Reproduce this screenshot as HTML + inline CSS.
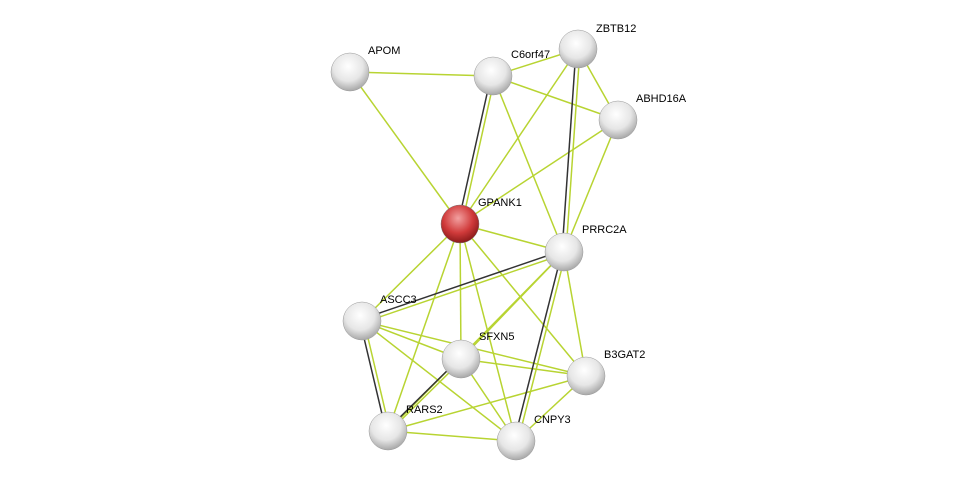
<!DOCTYPE html>
<html><head><meta charset="utf-8"><style>
html,body{margin:0;padding:0;background:#fff;width:976px;height:486px;overflow:hidden}
text{font-family:"Liberation Sans",sans-serif;font-size:11px;fill:#000}
</style></head><body>
<svg width="976" height="486" viewBox="0 0 976 486" xmlns="http://www.w3.org/2000/svg">
<defs>
<radialGradient id="g" cx="45%" cy="35%" r="65%">
<stop offset="0" stop-color="#ffffff"/><stop offset="0.6" stop-color="#e6e6e6"/><stop offset="1" stop-color="#a8a8a8"/>
</radialGradient>
<radialGradient id="r" cx="45%" cy="35%" r="65%">
<stop offset="0" stop-color="#f2a0a0"/><stop offset="0.6" stop-color="#d03a3a"/><stop offset="1" stop-color="#8a1a1a"/>
</radialGradient>
</defs>
<g stroke="#b8d432" stroke-width="1.5" fill="none">
<line x1="350" y1="72" x2="493" y2="76"/>
<line x1="350" y1="72" x2="460" y2="224"/>
<line x1="493" y1="76" x2="578" y2="49"/>
<line x1="493" y1="76" x2="618" y2="120"/>
<line x1="493" y1="76" x2="564" y2="252"/>
<line x1="578" y1="49" x2="618" y2="120"/>
<line x1="578" y1="49" x2="460" y2="224"/>
<line x1="618" y1="120" x2="460" y2="224"/>
<line x1="618" y1="120" x2="564" y2="252"/>
<line x1="460" y1="224" x2="564" y2="252"/>
<line x1="460" y1="224" x2="362" y2="321"/>
<line x1="460" y1="224" x2="461" y2="359"/>
<line x1="460" y1="224" x2="586" y2="376"/>
<line x1="460" y1="224" x2="388" y2="431"/>
<line x1="460" y1="224" x2="516" y2="441"/>
<line x1="564" y1="252" x2="461" y2="359"/>
<line x1="564" y1="252" x2="586" y2="376"/>
<line x1="564" y1="252" x2="388" y2="431"/>
<line x1="362" y1="321" x2="461" y2="359"/>
<line x1="362" y1="321" x2="586" y2="376"/>
<line x1="362" y1="321" x2="516" y2="441"/>
<line x1="461" y1="359" x2="586" y2="376"/>
<line x1="461" y1="359" x2="516" y2="441"/>
<line x1="586" y1="376" x2="388" y2="431"/>
<line x1="586" y1="376" x2="516" y2="441"/>
<line x1="388" y1="431" x2="516" y2="441"/>
<line x1="495" y1="76" x2="462" y2="224"/>
<line x1="580" y1="49" x2="566" y2="252"/>
<line x1="564" y1="254" x2="362" y2="323"/>
<line x1="566" y1="252" x2="518" y2="441"/>
<line x1="364" y1="321" x2="390" y2="431"/>
<line x1="463" y1="359" x2="390" y2="431"/>
</g>
<g stroke="#333" stroke-width="1.5">
<line x1="491" y1="76" x2="458" y2="224"/>
<line x1="576" y1="49" x2="562" y2="252"/>
<line x1="564" y1="250" x2="362" y2="319"/>
<line x1="562" y1="252" x2="514" y2="441"/>
<line x1="360" y1="321" x2="386" y2="431"/>
<line x1="459" y1="359" x2="386" y2="431"/>
</g>
<g>
<circle cx="350" cy="72" r="19" fill="url(#g)" stroke="#999" stroke-width="0.5"/>
<circle cx="493" cy="76" r="19" fill="url(#g)" stroke="#999" stroke-width="0.5"/>
<circle cx="578" cy="49" r="19" fill="url(#g)" stroke="#999" stroke-width="0.5"/>
<circle cx="618" cy="120" r="19" fill="url(#g)" stroke="#999" stroke-width="0.5"/>
<circle cx="460" cy="224" r="19" fill="url(#r)" stroke="#777" stroke-width="0.5"/>
<circle cx="564" cy="252" r="19" fill="url(#g)" stroke="#999" stroke-width="0.5"/>
<circle cx="362" cy="321" r="19" fill="url(#g)" stroke="#999" stroke-width="0.5"/>
<circle cx="461" cy="359" r="19" fill="url(#g)" stroke="#999" stroke-width="0.5"/>
<circle cx="586" cy="376" r="19" fill="url(#g)" stroke="#999" stroke-width="0.5"/>
<circle cx="388" cy="431" r="19" fill="url(#g)" stroke="#999" stroke-width="0.5"/>
<circle cx="516" cy="441" r="19" fill="url(#g)" stroke="#999" stroke-width="0.5"/>
</g>
<text x="368" y="54">APOM</text>
<text x="511" y="58">C6orf47</text>
<text x="596" y="32">ZBTB12</text>
<text x="636" y="102">ABHD16A</text>
<text x="478" y="206">GPANK1</text>
<text x="582" y="233">PRRC2A</text>
<text x="380" y="303">ASCC3</text>
<text x="479" y="340">SFXN5</text>
<text x="604" y="358">B3GAT2</text>
<text x="406" y="413">RARS2</text>
<text x="534" y="423">CNPY3</text>
</svg>
</body></html>
